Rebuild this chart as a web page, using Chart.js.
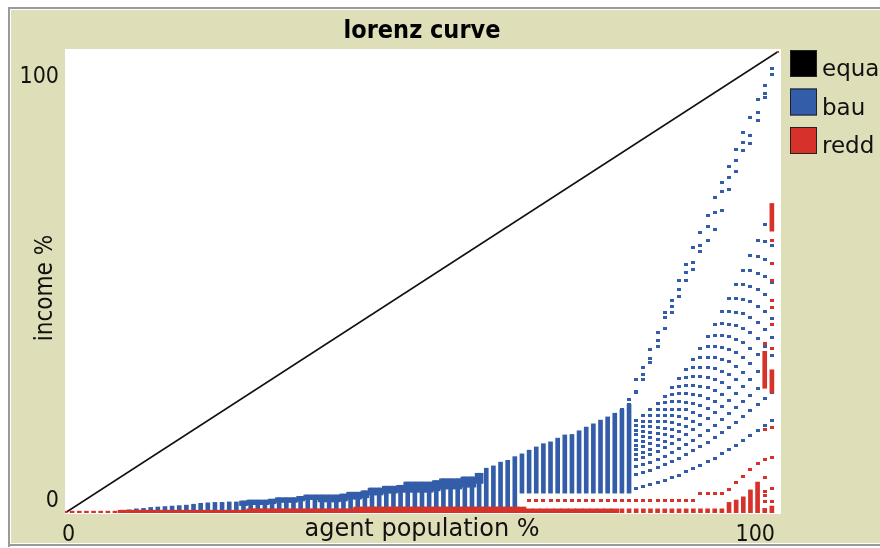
<!DOCTYPE html>
<html>
<head>
<meta charset="utf-8">
<script src="https://cdn.jsdelivr.net/npm/chart.js@4.4.1/dist/chart.umd.min.js"></script>
<style>
  html, body { margin: 0; padding: 0; background: #fff; }
  #wrap { position: relative; width: 880px; height: 548px; }
  canvas { display: block; }
</style>
</head>
<body>
<div id="wrap"><canvas id="plot" width="880" height="548"></canvas></div>
<script>
// ---- data -------------------------------------------------------------
const seriesNames = ['equal', 'bau', 'redd'];
const xTickLabels = ['0', '100'];
const yTickLabels = ['0', '100'];

// line of perfect equality (population %, income %)
const equalPop = [0, 100];
const equalIncome = [0, 100];

// bau: stacked readings per population column, starting at column 8
const bauStackStart = 8;
const bauStackTop = [
  0.6, 0.7, 0.9, 1.0, 1.2, 1.3, 1.4, 1.5, 1.6, 1.7, 1.9, 2.1, 2.2, 2.3, 2.3, 2.4, 2.4,
  2.6, 2.8, 2.8, 2.8, 3.0, 3.3, 3.3, 3.3, 3.6, 3.9, 3.9, 3.9, 3.9, 3.9, 4.1, 4.5, 4.5,
  4.8, 5.4, 5.4, 5.8, 5.8, 6.0, 6.7, 6.7, 6.7, 6.7, 7.0, 7.4, 7.4, 7.4, 7.8, 7.8, 8.6,
  9.7, 10.2, 11.0, 11.4, 12.2, 12.8, 13.6, 14.3, 15.0, 15.4, 16.2, 16.9, 17.0, 17.8,
  18.6, 19.3, 20.1, 20.8, 21.6, 22.4, 23.5
];
const bauStackBase = [
  0, 0, 0, 0, 0, 0, 0, 0, 0, 0, 0, 0, 0, 0, 0, 0, 0,
  0, 0, 0, 0, 0, 0, 0, 0, 0, 0, 0, 0, 0, 0, 0, 0, 0,
  0, 0, 0, 0, 0, 0, 0, 0, 0, 0, 0, 0, 0, 0, 0, 0, 0,
  0, 0, 0, 0, 0, 4.3, 4.3, 4.3, 4.3, 4.3, 4.3, 4.3, 4.3, 4.3,
  4.3, 4.3, 4.3, 4.3, 4.3, 4.3, 4.3
];
// bau: densely sampled upper run, columns 25..58 (merges into one band)
const bauBandStart = 25;
const bauBandBase = [
  1.6, 1.8, 1.8, 1.8, 2.0, 2.3, 2.3, 2.3, 2.6, 2.9, 2.9,
  2.4, 2.4, 2.4, 2.6, 3.0, 3.0, 3.3, 3.9, 3.9, 4.3, 4.3, 4.5,
  4.5, 4.5, 4.5, 4.5, 4.8, 5.2, 5.2, 5.2, 5.6, 5.6, 6.4
];

// bau: individual Lorenz curves for the top columns 78..99
const bauCurveStart = 78;
const bauCurveA  = [22.4, 24.5, 28.8, 31.6, 35.3, 39.0, 43.3, 46.1, 50.4, 53.7, 57.4, 60.8, 64.5, 68.2, 71.6, 74.9, 78.6, 82.3, 85.7, 89.4, 92.6, 96.3];
const bauCurveA2 = [21.5, 23.5, 26.2, 29.9, 33.5, 37.4, 42.4, 44.6, 48.3, 52.0, 54.3, 58.0, 62.0, 65.0, 69.5, 72.7, 76.4, 80.3, 81.8, 86.6, 90.9, 96.3];
const bauCurveB  = [21.0, 23.0, 26.0, 29.0, 32.5, 36.0, 40.0, 43.3, 46.8, 50.4, 52.6, 56.5, 59.0, 61.3, 65.5, 70.0, 74.0, 78.5, 80.0, 85.0, 90.0, 95.0];
const bauFan1  = [19, 19.4, 20.1, 21.1, 22.3, 23.7, 25.3, 27.1, 29.1, 31.1, 33.3, 35.7, 38.2, 40.8, 43.6, 46.4, 49.4, 52.5, 55.7, 59, 62.5, 66];
const bauFan2  = [18, 18.3, 19, 19.9, 21.1, 22.4, 23.9, 25.6, 27.4, 29.4, 31.4, 33.6, 36, 38.4, 41, 43.7, 46.5, 49.4, 52.4, 55.5, 58.7, 62];
const bauFan3  = [17, 17.3, 17.9, 18.8, 19.9, 21.1, 22.5, 24.1, 25.8, 27.6, 29.5, 31.6, 33.7, 36, 38.4, 40.9, 43.5, 46.2, 49, 51.9, 54.9, 58];
const bauFan4  = [16, 16.3, 16.9, 17.7, 18.7, 19.8, 21.1, 22.5, 24.1, 25.8, 27.6, 29.5, 31.5, 33.6, 35.9, 38.2, 40.6, 43.1, 45.7, 48.4, 51.2, 54];
const bauFan5  = [15, 15.3, 15.8, 16.5, 17.5, 18.5, 19.7, 21, 22.5, 24, 25.7, 27.4, 29.3, 31.2, 33.3, 35.4, 37.6, 40, 42.3, 44.8, 47.4, 50];
const bauFan6  = [14, 14.2, 14.7, 15.4, 16.3, 17.2, 18.3, 19.5, 20.8, 22.3, 23.8, 25.4, 27.1, 28.8, 30.7, 32.7, 34.7, 36.8, 39, 41.3, 43.6, 46];
const bauFan7  = [13, 13.2, 13.7, 14.3, 15, 15.9, 16.9, 18, 19.2, 20.5, 21.8, 23.3, 24.8, 26.5, 28.2, 29.9, 31.8, 33.7, 35.6, 37.7, 39.8, 42];
const bauFan8  = [12, 12.2, 12.6, 13.1, 13.8, 14.6, 15.5, 16.5, 17.6, 18.7, 19.9, 21.2, 22.6, 24.1, 25.6, 27.2, 28.8, 30.5, 32.3, 34.2, 36, 38];
const bauFan9  = [11, 11.2, 11.5, 12, 12.6, 13.3, 14.1, 15, 15.9, 16.9, 18, 19.2, 20.4, 21.7, 23, 24.4, 25.9, 27.4, 29, 30.6, 32.3, 34];
const bauFan10 = [9.5, 9.7, 10, 10.4, 10.9, 11.5, 12.3, 13, 13.9, 14.8, 15.8, 16.8, 17.9, 19, 20.2, 21.5, 22.8, 24.1, 25.5, 27, 28.5, 30];
const bauFan11 = [8, 8.1, 8.4, 8.8, 9.3, 9.8, 10.4, 11.1, 11.9, 12.6, 13.5, 14.4, 15.3, 16.4, 17.4, 18.5, 19.6, 20.8, 22.1, 23.4, 24.7, 26];
const bauFan12 = [5, 5.1, 5.3, 5.7, 6.1, 6.5, 7, 7.6, 8.2, 8.9, 9.6, 10.3, 11.1, 11.9, 12.8, 13.8, 14.7, 15.7, 16.7, 17.8, 18.9, 20];

// redd: solid floor band, columns 8..77
const reddBandStart = 8;
const reddBandTop = [
  0.6, 0.6, 0.6, 0.6, 0.6, 0.6, 0.6, 0.6, 0.6, 0.6, 0.6, 0.6, 0.6, 0.6, 0.6, 0.6, 0.6, 0.6,
  0.9, 0.9, 0.9, 0.9, 0.9, 0.9, 0.9, 0.9, 0.9, 0.9, 0.9, 0.9, 0.9, 0.9, 0.9,
  1.3, 1.3, 1.3, 1.3, 1.3, 1.3, 1.3, 1.3, 1.3, 1.3, 1.3, 1.3, 1.3, 1.3, 1.3, 1.3, 1.3, 1.3, 1.3, 1.3, 1.3, 1.3, 1.3, 1.3,
  0.9, 0.9, 0.9, 0.9, 0.9, 0.9, 0.9, 0.9, 0.9, 0.9, 0.9, 0.9, 0.9
];
// redd: separate floor marks at the first and last columns
const reddHeadTop = [0.4, 0.4, 0.4, 0.4, 0.4, 0.4, 0.4, 0.4];           // columns 0..7
const reddTailStart = 78;
const reddTailTop = [0.9, 0.9, 0.9, 0.9, 0.9, 0.9, 0.9, 0.9, 0.9, 0.9, 0.9, 0.9, 0.9, 0.9, 0.9,
                     2.3, 2.8, 3.5, 5.0, 6.7, 1.0, 1.5];                  // columns 78..99
// redd: second curve, columns 65..99
const reddRowStart = 65;
const reddRow = [2.8, 2.8, 2.8, 2.8, 2.8, 2.8, 2.8, 2.8, 2.8, 2.8, 2.8, 2.8, 2.8, 2.8, 2.8, 2.8, 2.8, 2.8,
                 2.8, 2.8, 2.8, 2.8, 2.8, 2.8, 4.3, 4.3, 4.3, 4.3, 5.0, 6.5, 7.8, 9.5, 10.8, 11.5, 12.0];
// redd: scattered readings at the last columns
const reddAt98 = [2.4, 3.8, 4.6, 7.6, 18.0, 36.6];
const reddAt99 = [2.5, 5.4, 18.6, 35.7, 40.7, 44.5, 46.0, 50.4, 54.0, 59.0];
const reddSpans98 = [[27.0, 35.0]];
const reddSpans99 = [[26.0, 31.0], [61.0, 67.0]];
const reddAt100 = [100];

// ---- styling ----------------------------------------------------------
const BEIGE = 'rgb(222,222,184)';
const BLUE = 'rgb(52,93,169)';
const RED = 'rgb(215,50,41)';
const BLACK = '#000';
const seriesColors = [BLACK, BLUE, RED];
const FONT_NARROW = "'DejaVu Sans Condensed', 'DejaVu Sans', sans-serif";
const FONT_WIDE = "'DejaVu Sans', sans-serif";

function markImage(color, w, h) {
  const c = document.createElement('canvas');
  c.width = w; c.height = h;
  const g = c.getContext('2d');
  g.fillStyle = color;
  g.fillRect(0, 0, w, h);
  return c;
}
const blueMark = markImage(BLUE, 4, 3);
const redMark = markImage(RED, 4, 3);

function span(start, base, tops) {
  return tops.map((t, i) => ({ x: start + i, y: [Array.isArray(base) ? base[i] : base, t] }));
}
function curve(start, values) {
  return values.map((v, i) => ({ x: start + i, y: v }));
}
function column(col, values) {
  return values.map(v => ({ x: col, y: v }));
}
function spans(col, pairs) {
  return pairs.map(p => ({ x: col, y: p }));
}

function barSet(data, color, thickness, order) {
  return { type: 'bar', data, backgroundColor: color, borderWidth: 0, barThickness: thickness,
           grouped: false, order };
}
function pointSet(data, mark, order) {
  return { type: 'scatter', data, pointStyle: mark, pointRadius: 2, showLine: false, order };
}

const bauCurves = [bauCurveA, bauCurveA2, bauCurveB, bauFan1, bauFan2, bauFan3, bauFan4, bauFan5,
                   bauFan6, bauFan7, bauFan8, bauFan9, bauFan10, bauFan11, bauFan12];

// band tops are the stack tops of the same columns
const bauBandTop = bauBandBase.map((_, i) => bauStackTop[bauBandStart - bauStackStart + i]);

const datasets = [
  { type: 'line', label: seriesNames[0],
    data: equalPop.map((p, i) => ({ x: p, y: equalIncome[i] })),
    borderColor: '#111', borderWidth: 1.7, pointRadius: 0, fill: false, order: 3 },

  barSet(span(bauStackStart, bauStackBase, bauStackTop), BLUE, 4, 2),
  barSet(span(bauBandStart, bauBandBase, bauBandTop), BLUE, 8, 2),
  ...bauCurves.map(c => pointSet(curve(bauCurveStart, c), blueMark, 2)),

  barSet(span(reddBandStart, 0, reddBandTop), RED, 8, 1),
  barSet(span(0, 0, reddHeadTop), RED, 4, 1),
  barSet(span(reddTailStart, 0, reddTailTop), RED, 4, 1),
  barSet(spans(98, reddSpans98), RED, 4, 1),
  barSet(spans(99, reddSpans99), RED, 4, 1),
  pointSet(curve(reddRowStart, reddRow), redMark, 1),
  pointSet(column(98, reddAt98), redMark, 1),
  pointSet(column(99, reddAt99), redMark, 1),
  pointSet(column(100, reddAt100), redMark, 1)
];

// ---- frame, labels and legend -----------------------------------------
const framePlugin = {
  id: 'frame',
  beforeDraw(chart) {
    const ctx = chart.ctx;
    const a = chart.chartArea;
    ctx.save();
    ctx.fillStyle = '#fff';
    ctx.fillRect(0, 0, 880, 548);
    ctx.fillStyle = '#9a9a9a';
    ctx.fillRect(8, 7, 872, 2);
    ctx.fillRect(8, 7, 2, 540);
    ctx.fillRect(8, 544, 872, 2);
    ctx.fillStyle = BEIGE;
    ctx.fillRect(11, 10, 869, 533);
    ctx.fillStyle = '#fff';
    ctx.fillRect(a.left, a.top - 2, a.right - a.left + 2, a.bottom - a.top + 3);
    ctx.restore();
  },
  afterDraw(chart) {
    const ctx = chart.ctx;
    const a = chart.chartArea;
    const xs = chart.scales.x, ys = chart.scales.y;
    ctx.save();
    ctx.fillStyle = '#000';

    // title
    ctx.font = 'bold 25px ' + FONT_NARROW;
    ctx.textAlign = 'center';
    ctx.textBaseline = 'alphabetic';
    ctx.fillText('lorenz curve', (a.left + a.right) / 2, 38);

    ctx.font = '23px ' + FONT_NARROW;
    ctx.fillStyle = '#111';
    // y tick labels
    ctx.textAlign = 'right';
    ctx.fillText(yTickLabels[1], a.left - 6, ys.getPixelForValue(100) + 32);
    ctx.fillText(yTickLabels[0], a.left - 6, ys.getPixelForValue(0) - 6);
    // x tick labels
    ctx.textAlign = 'left';
    ctx.fillText(xTickLabels[0], xs.getPixelForValue(0) - 3, 541);
    ctx.textAlign = 'right';
    ctx.fillText(xTickLabels[1], xs.getPixelForValue(100) - 4, 541);

    // axis titles
    ctx.textAlign = 'center';
    ctx.font = '24px ' + FONT_WIDE;
    ctx.fillText('agent population %', (a.left + a.right) / 2, 536);
    ctx.save();
    ctx.font = '24px ' + FONT_NARROW;
    ctx.translate(52, (a.top + a.bottom) / 2 + 6);
    ctx.rotate(-Math.PI / 2);
    ctx.fillText('income %', 0, 0);
    ctx.restore();

    // legend
    ctx.textAlign = 'left';
    ctx.font = '23px ' + FONT_WIDE;
    seriesNames.forEach((name, i) => {
      const top = 50 + i * 38.5;
      ctx.fillStyle = seriesColors[i];
      ctx.fillRect(790, top, 27, 27);
      ctx.strokeStyle = '#222';
      ctx.lineWidth = 1;
      ctx.strokeRect(790.5, top + 0.5, 26, 26);
      ctx.fillStyle = '#111';
      ctx.fillText(name, 822, top + 26);
    });
    ctx.restore();
  }
};

new Chart(document.getElementById('plot'), {
  type: 'scatter',
  data: { datasets },
  options: {
    responsive: false,
    maintainAspectRatio: false,
    devicePixelRatio: 1,
    animation: false,
    events: [],
    layout: { padding: { left: 65, right: 101, top: 51, bottom: 35 } },
    scales: {
      x: { type: 'linear', min: 0, max: 100, display: false, offset: false },
      y: { type: 'linear', min: 0, max: 100, display: false }
    },
    plugins: { legend: { display: false }, title: { display: false }, tooltip: { enabled: false } }
  },
  plugins: [framePlugin]
});
</script>
</body>
</html>
